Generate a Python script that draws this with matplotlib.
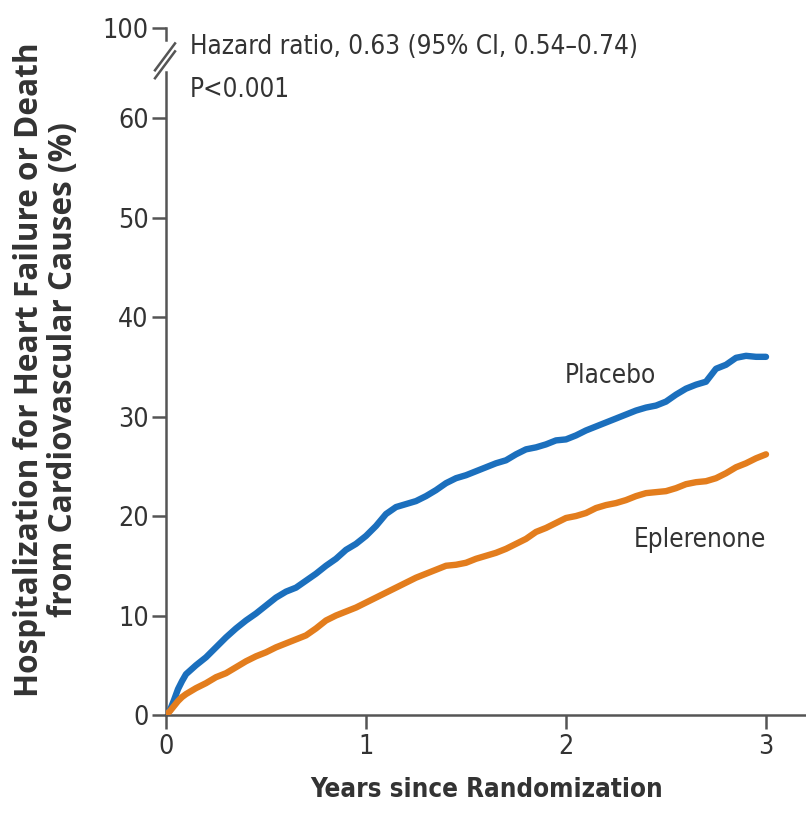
import matplotlib
matplotlib.use("Agg")
import matplotlib.pyplot as plt
from matplotlib import font_manager as fm
from matplotlib.font_manager import FontProperties

years = [0, 0.02, 0.04, 0.06, 0.08, 0.1, 0.15, 0.2, 0.25, 0.3, 0.35, 0.4, 0.45, 0.5, 0.55, 0.6, 0.65,
         0.7, 0.75, 0.8, 0.85, 0.9, 0.95, 1.0, 1.05, 1.1, 1.15, 1.2, 1.25, 1.3, 1.35, 1.4, 1.45, 1.5,
         1.55, 1.6, 1.65, 1.7, 1.75, 1.8, 1.85, 1.9, 1.95, 2.0, 2.05, 2.1, 2.15, 2.2, 2.25, 2.3, 2.35,
         2.4, 2.45, 2.5, 2.55, 2.6, 2.65, 2.7, 2.75, 2.8, 2.85, 2.9, 2.95, 3.0]
placebo = [0, 0.5, 1.5, 2.6, 3.4, 4.1, 5.0, 5.8, 6.8, 7.8, 8.7, 9.5, 10.2, 11.0, 11.8, 12.4, 12.8,
           13.5, 14.2, 15.0, 15.7, 16.6, 17.2, 18.0, 19.0, 20.2, 20.9, 21.2, 21.5, 22.0, 22.6, 23.3,
           23.8, 24.1, 24.5, 24.9, 25.3, 25.6, 26.2, 26.7, 26.9, 27.2, 27.6, 27.7, 28.1, 28.6, 29.0,
           29.4, 29.8, 30.2, 30.6, 30.9, 31.1, 31.5, 32.2, 32.8, 33.2, 33.5, 34.8, 35.2, 35.9, 36.1,
           36.0, 36.0]
eplerenone = [0, 0.4, 0.9, 1.4, 1.8, 2.1, 2.7, 3.2, 3.8, 4.2, 4.8, 5.4, 5.9, 6.3, 6.8, 7.2, 7.6,
              8.0, 8.7, 9.5, 10.0, 10.4, 10.8, 11.3, 11.8, 12.3, 12.8, 13.3, 13.8, 14.2, 14.6, 15.0,
              15.1, 15.3, 15.7, 16.0, 16.3, 16.7, 17.2, 17.7, 18.4, 18.8, 19.3, 19.8, 20.0, 20.3,
              20.8, 21.1, 21.3, 21.6, 22.0, 22.3, 22.4, 22.5, 22.8, 23.2, 23.4, 23.5, 23.8, 24.3,
              24.9, 25.3, 25.8, 26.2]

x_ticks = [0, 1, 2, 3]
y_tick_labels = ["0", "10", "20", "30", "40", "50", "60", "100"]
y_tick_pos = [0, 10, 20, 30, 40, 50, 60, 69.05]


def pick_condensed(bold):
    pref = ["liberation sans narrow", "dejavu sans", "open sans", "roboto", "noto sans"]
    best, best_rank = None, 99
    for f in fm.fontManager.ttflist:
        low = (f.name + " " + f.fname).lower()
        cond = (f.stretch in ("condensed", "semi-condensed", "extra-condensed")
                or "narrow" in low or "condensed" in low)
        if not cond or f.style != "normal":
            continue
        w = f.weight if isinstance(f.weight, int) else fm.weight_dict.get(f.weight, 400)
        if (w >= 600) != bold or w > 800 or (not bold and w < 350):
            continue
        rank = 50
        for i, p in enumerate(pref):
            if p in low:
                rank = i
                break
        if rank < best_rank:
            best, best_rank = f, rank
    if best is not None:
        return FontProperties(fname=best.fname)
    return FontProperties(family="Lato", weight="bold" if bold else "normal")


FP_REG = pick_condensed(False)
FP_BOLD = pick_condensed(True)
FP_YLAB = FontProperties(family="Open Sans", weight="bold")

TXT = "#333333"
AX = "#555555"
BLUE = "#1b6fbd"
ORANGE = "#e37d1d"

fig = plt.figure(figsize=(8.06, 8.31), dpi=100)
ax = fig.add_axes([166/806, 116/831, 640/806, 687/831])
ax.plot(years, placebo, color=BLUE, lw=4.6, solid_capstyle='round', solid_joinstyle='round', zorder=3)
ax.plot(years, eplerenone, color=ORANGE, lw=4.6, solid_capstyle='round', solid_joinstyle='round', zorder=3)

ax.set_xlim(0, 3.2)
ax.set_ylim(0, 69.05)
for s in ["top", "right"]:
    ax.spines[s].set_visible(False)
for s in ["left", "bottom"]:
    ax.spines[s].set_color(AX)
    ax.spines[s].set_linewidth(1.8)
ax.spines["left"].set_bounds(0, 64.6)

ax.set_xticks(x_ticks)
ax.set_xticklabels([str(t) for t in x_ticks])
ax.set_yticks(y_tick_pos)
ax.set_yticklabels(y_tick_labels)
ax.tick_params(axis='both', colors=AX, width=1.8, length=10, labelcolor=TXT)
ax.tick_params(axis='x', pad=4)
ax.tick_params(axis='y', pad=2.5)

ax.plot([0, 0], [67.8, 69.05], color=AX, lw=1.8, clip_on=False)
for y0 in (64.0, 64.8):
    ax.plot([-0.055, 0.045], [y0, y0 + 2.7], color=AX, lw=1.8, clip_on=False)

t_hr = ax.text(0.12, 67.1, "Hazard ratio, 0.63 (95% CI, 0.54\u20130.74)", color=TXT,
               va='center', ha='left', fontproperties=FP_REG)
t_p = ax.text(0.12, 62.8, "P<0.001", color=TXT, va='center', ha='left', fontproperties=FP_REG)
t_pl = ax.text(2.22, 34.1, "Placebo", color=TXT, va='center', ha='center', fontproperties=FP_REG)
t_ep = ax.text(2.67, 17.6, "Eplerenone", color=TXT, va='center', ha='center', fontproperties=FP_REG)

t_x = fig.text(487/806, 1 - 790/831, "Years since Randomization", color=TXT,
               ha='center', va='center', fontproperties=FP_BOLD)
t_y1 = fig.text(30/806, 1 - 370/831, "Hospitalization for Heart Failure or Death",
                color=TXT, ha='center', va='center', rotation=90, fontproperties=FP_YLAB)
t_y2 = fig.text(64/806, 1 - 370/831, "from Cardiovascular Causes (%)",
                color=TXT, ha='center', va='center', rotation=90, fontproperties=FP_YLAB)

# fit font sizes to the reference text widths
fig.canvas.draw()
r = fig.canvas.get_renderer()


def fit(t, target, vertical=False):
    t.set_fontsize(20)
    bb = t.get_window_extent(r)
    w = bb.height if vertical else bb.width
    s = 20 * target / w
    t.set_fontsize(s)
    return s


s_reg = fit(t_hr, 450)
for t in (t_p, t_pl, t_ep):
    t.set_fontsize(s_reg)
fit(t_x, 352)
s_y = fit(t_y1, 654, vertical=True)
t_y2.set_fontsize(s_y)
for lab in ax.get_xticklabels() + ax.get_yticklabels():
    lab.set_fontproperties(FP_REG)
    lab.set_fontsize(s_reg * 1.02)

fig.savefig("out.png", dpi=100)
